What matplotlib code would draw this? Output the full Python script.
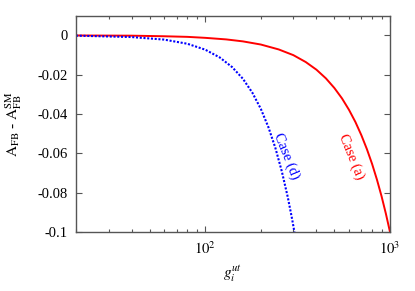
import matplotlib
matplotlib.use("Agg")
import matplotlib.pyplot as plt
from matplotlib.ticker import LogLocator, NullFormatter, FixedLocator

plt.rcParams['font.family'] = ['Liberation Serif', 'DejaVu Serif']
plt.rcParams['mathtext.fontset'] = 'stix'

# Case (a) - red solid
g_a = [20, 40, 60, 80, 100, 130, 160, 200, 250, 300, 350, 400, 450, 500, 550, 600,
       650, 700, 750, 800, 850, 900, 950, 1000]
A_a = [-0.0001, -0.0002, -0.0005, -0.0008, -0.0013, -0.0021, -0.0031, -0.0047, -0.0072,
       -0.0101, -0.0136, -0.0175, -0.0219, -0.0268, -0.0321, -0.0379, -0.0441, -0.0508,
       -0.0579, -0.0654, -0.0734, -0.0818, -0.0907, -0.1]
# Case (d) - blue dotted
g_d = [20, 40, 60, 80, 100, 120, 140, 160, 180, 200, 220, 240, 260, 280, 295, 304]
A_d = [-0.0002, -0.0009, -0.0022, -0.0043, -0.0073, -0.0113, -0.0162, -0.0221, -0.0292,
       -0.0374, -0.0468, -0.0574, -0.0693, -0.0824, -0.0932, -0.1]

yticks = [0, -0.02, -0.04, -0.06, -0.08, -0.1]
ytick_labels = ['0', '-0.02', '-0.04', '-0.06', '-0.08', '-0.1']

fig = plt.figure(figsize=(4.15, 2.91), dpi=100)
ax = fig.add_axes([76/415, 59/291, 314/415, 216/291])

ax.plot(g_a, A_a, color='#ff0000', lw=1.4, solid_capstyle='butt')
ax.plot(g_d, A_d, color='#0000ff', lw=1.5, linestyle=(0, (1, 0.8)))

ax.set_xscale('log')
ax.set_xlim(20, 1000)
ax.set_ylim(-0.1, 0.0098)
ax.set_yticks(yticks)
ax.set_yticklabels(ytick_labels)
ax.xaxis.set_major_locator(FixedLocator([100, 1000]))
ax.set_xticklabels([r'$10^2$', r'$10^3$'])
ax.xaxis.set_minor_locator(LogLocator(base=10, subs=range(2, 10), numticks=20))
ax.xaxis.set_minor_formatter(NullFormatter())

ax.tick_params(which='both', direction='in', top=True, right=True, labelsize=10.5, color='#555555', pad=6)
ax.tick_params(which='major', length=4, width=0.8)
ax.tick_params(which='minor', length=2.5, width=0.8)
for s in ax.spines.values():
    s.set_color('#555555')
    s.set_linewidth(1.0)

ax.set_xlabel(r'$g_i^{ut}$', fontsize=11, labelpad=5)
ax.set_ylabel(r'$\mathrm{A_{FB}}$ - $\mathrm{A_{FB}^{SM}}$', fontsize=11, labelpad=10)

ax.text(276, -0.0615, 'Case (d)', color='#0000ff', rotation=-68, fontsize=10.5,
        ha='center', va='center')
ax.text(620, -0.0615, 'Case (a)', color='#ff0000', rotation=-68, fontsize=10.5,
        ha='center', va='center')

fig.savefig('out.png', dpi=100)
